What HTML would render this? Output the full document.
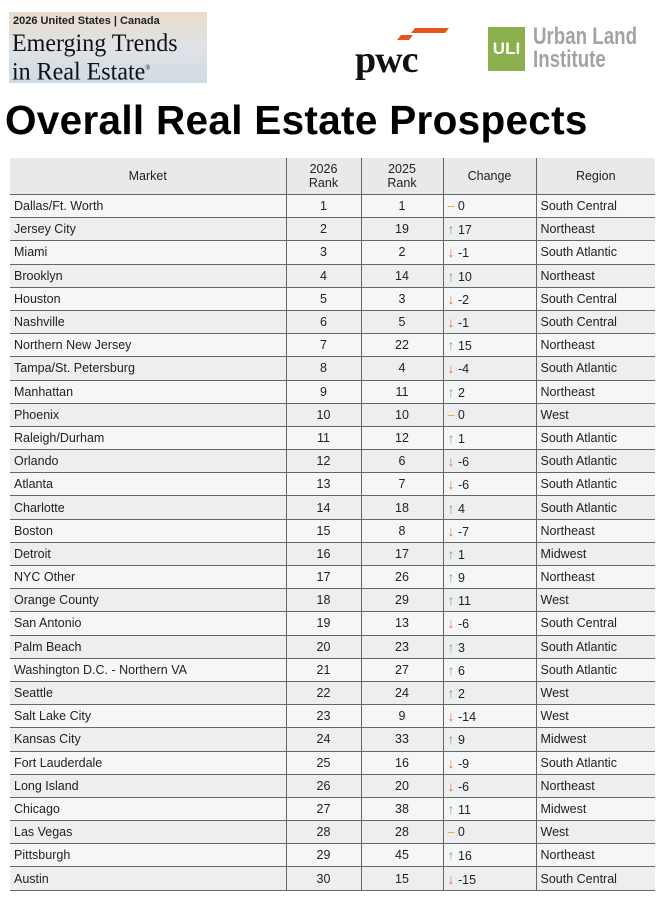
<!DOCTYPE html>
<html><head><meta charset="utf-8"><style>
body{margin:0;width:659px;height:900px;background:#fff;font-family:"Liberation Sans",sans-serif;position:relative;overflow:hidden}
.banner{position:absolute;left:9px;top:12px;width:198px;height:71px;background:linear-gradient(180deg,#e9dccb 0%,#dfe3e6 50%,#cfdbe4 100%)}
.banner .s{position:absolute;left:4px;top:3px;font-size:11px;font-weight:bold;color:#222}
.banner .b{position:absolute;left:3px;top:19px;font-family:"Liberation Serif",serif;font-size:25px;line-height:25px;color:#111;white-space:nowrap;transform:scaleX(.96);transform-origin:left}
.pwc{position:absolute;left:355px;top:38px;font-family:"Liberation Serif",serif;font-weight:bold;font-size:38px;color:#111;letter-spacing:-1px}
.uli{position:absolute;left:488px;top:27px;width:37px;height:44px;background:#8bb04d;color:#fff;font-size:17px;font-weight:bold;text-align:center;line-height:44px}
.ul{position:absolute;left:533px;top:25px;font-size:24px;line-height:23px;font-weight:bold;color:#a0a4a6;transform:scaleX(.78);transform-origin:left;white-space:nowrap}
h1{position:absolute;left:5px;top:97px;margin:0;font-size:40.5px;font-weight:bold;color:#000;letter-spacing:0.3px;white-space:nowrap}
table{position:absolute;left:10px;top:158px;width:645px;border-collapse:collapse;font-size:12.5px;color:#222}
td,th{border:1px solid #666;border-left:1px solid #555;padding:0 4px;height:22.2px}
tr td:first-child,tr th:first-child{border-left:none}
tr td:last-child,tr th:last-child{border-right:none}
th{font-weight:normal;height:36px;background:#e8e9eb;line-height:14px;border-top:none}
tr:nth-child(odd) td{background:#eceef0}
tr:nth-child(even) td{background:#f5f6f7}
td:nth-child(2),td:nth-child(3){text-align:center}
.u{color:#6cb36c;font-size:14px}.d{color:#e0783a;font-size:14px}.z{color:#e8a040}
</style></head><body>
<div class="banner"><div class="s">2026 United States | Canada</div><div class="b">Emerging Trends<br>in Real Estate<sup style="font-size:7px">®</sup></div></div>
<svg style="position:absolute;left:393px;top:25px" width="57" height="16"><polygon points="8,10 20,10 16,15 4,15" fill="#e8541c"/><polygon points="22,3 56,3 52,8 18,8" fill="#e8541c"/></svg>
<div class="pwc">pwc</div>
<div class="uli">ULI</div>
<div class="ul">Urban Land<br>Institute</div>
<h1>Overall Real Estate Prospects</h1>
<table>
<colgroup><col style="width:276px"><col style="width:75px"><col style="width:82px"><col style="width:93px"><col></colgroup>
<tr><th>Market</th><th>2026<br>Rank</th><th>2025<br>Rank</th><th>Change</th><th>Region</th></tr>
<tr><td>Dallas/Ft. Worth</td><td>1</td><td>1</td><td><span class="z">–</span> 0</td><td>South Central</td></tr>
<tr><td>Jersey City</td><td>2</td><td>19</td><td><span class="u">↑</span> 17</td><td>Northeast</td></tr>
<tr><td>Miami</td><td>3</td><td>2</td><td><span class="d">↓</span> -1</td><td>South Atlantic</td></tr>
<tr><td>Brooklyn</td><td>4</td><td>14</td><td><span class="u">↑</span> 10</td><td>Northeast</td></tr>
<tr><td>Houston</td><td>5</td><td>3</td><td><span class="d">↓</span> -2</td><td>South Central</td></tr>
<tr><td>Nashville</td><td>6</td><td>5</td><td><span class="d">↓</span> -1</td><td>South Central</td></tr>
<tr><td>Northern New Jersey</td><td>7</td><td>22</td><td><span class="u">↑</span> 15</td><td>Northeast</td></tr>
<tr><td>Tampa/St. Petersburg</td><td>8</td><td>4</td><td><span class="d">↓</span> -4</td><td>South Atlantic</td></tr>
<tr><td>Manhattan</td><td>9</td><td>11</td><td><span class="u">↑</span> 2</td><td>Northeast</td></tr>
<tr><td>Phoenix</td><td>10</td><td>10</td><td><span class="z">–</span> 0</td><td>West</td></tr>
<tr><td>Raleigh/Durham</td><td>11</td><td>12</td><td><span class="u">↑</span> 1</td><td>South Atlantic</td></tr>
<tr><td>Orlando</td><td>12</td><td>6</td><td><span class="d">↓</span> -6</td><td>South Atlantic</td></tr>
<tr><td>Atlanta</td><td>13</td><td>7</td><td><span class="d">↓</span> -6</td><td>South Atlantic</td></tr>
<tr><td>Charlotte</td><td>14</td><td>18</td><td><span class="u">↑</span> 4</td><td>South Atlantic</td></tr>
<tr><td>Boston</td><td>15</td><td>8</td><td><span class="d">↓</span> -7</td><td>Northeast</td></tr>
<tr><td>Detroit</td><td>16</td><td>17</td><td><span class="u">↑</span> 1</td><td>Midwest</td></tr>
<tr><td>NYC Other</td><td>17</td><td>26</td><td><span class="u">↑</span> 9</td><td>Northeast</td></tr>
<tr><td>Orange County</td><td>18</td><td>29</td><td><span class="u">↑</span> 11</td><td>West</td></tr>
<tr><td>San Antonio</td><td>19</td><td>13</td><td><span class="d">↓</span> -6</td><td>South Central</td></tr>
<tr><td>Palm Beach</td><td>20</td><td>23</td><td><span class="u">↑</span> 3</td><td>South Atlantic</td></tr>
<tr><td>Washington D.C. - Northern VA</td><td>21</td><td>27</td><td><span class="u">↑</span> 6</td><td>South Atlantic</td></tr>
<tr><td>Seattle</td><td>22</td><td>24</td><td><span class="u">↑</span> 2</td><td>West</td></tr>
<tr><td>Salt Lake City</td><td>23</td><td>9</td><td><span class="d">↓</span> -14</td><td>West</td></tr>
<tr><td>Kansas City</td><td>24</td><td>33</td><td><span class="u">↑</span> 9</td><td>Midwest</td></tr>
<tr><td>Fort Lauderdale</td><td>25</td><td>16</td><td><span class="d">↓</span> -9</td><td>South Atlantic</td></tr>
<tr><td>Long Island</td><td>26</td><td>20</td><td><span class="d">↓</span> -6</td><td>Northeast</td></tr>
<tr><td>Chicago</td><td>27</td><td>38</td><td><span class="u">↑</span> 11</td><td>Midwest</td></tr>
<tr><td>Las Vegas</td><td>28</td><td>28</td><td><span class="z">–</span> 0</td><td>West</td></tr>
<tr><td>Pittsburgh</td><td>29</td><td>45</td><td><span class="u">↑</span> 16</td><td>Northeast</td></tr>
<tr><td>Austin</td><td>30</td><td>15</td><td><span class="d">↓</span> -15</td><td>South Central</td></tr>
</table>
</body></html>
